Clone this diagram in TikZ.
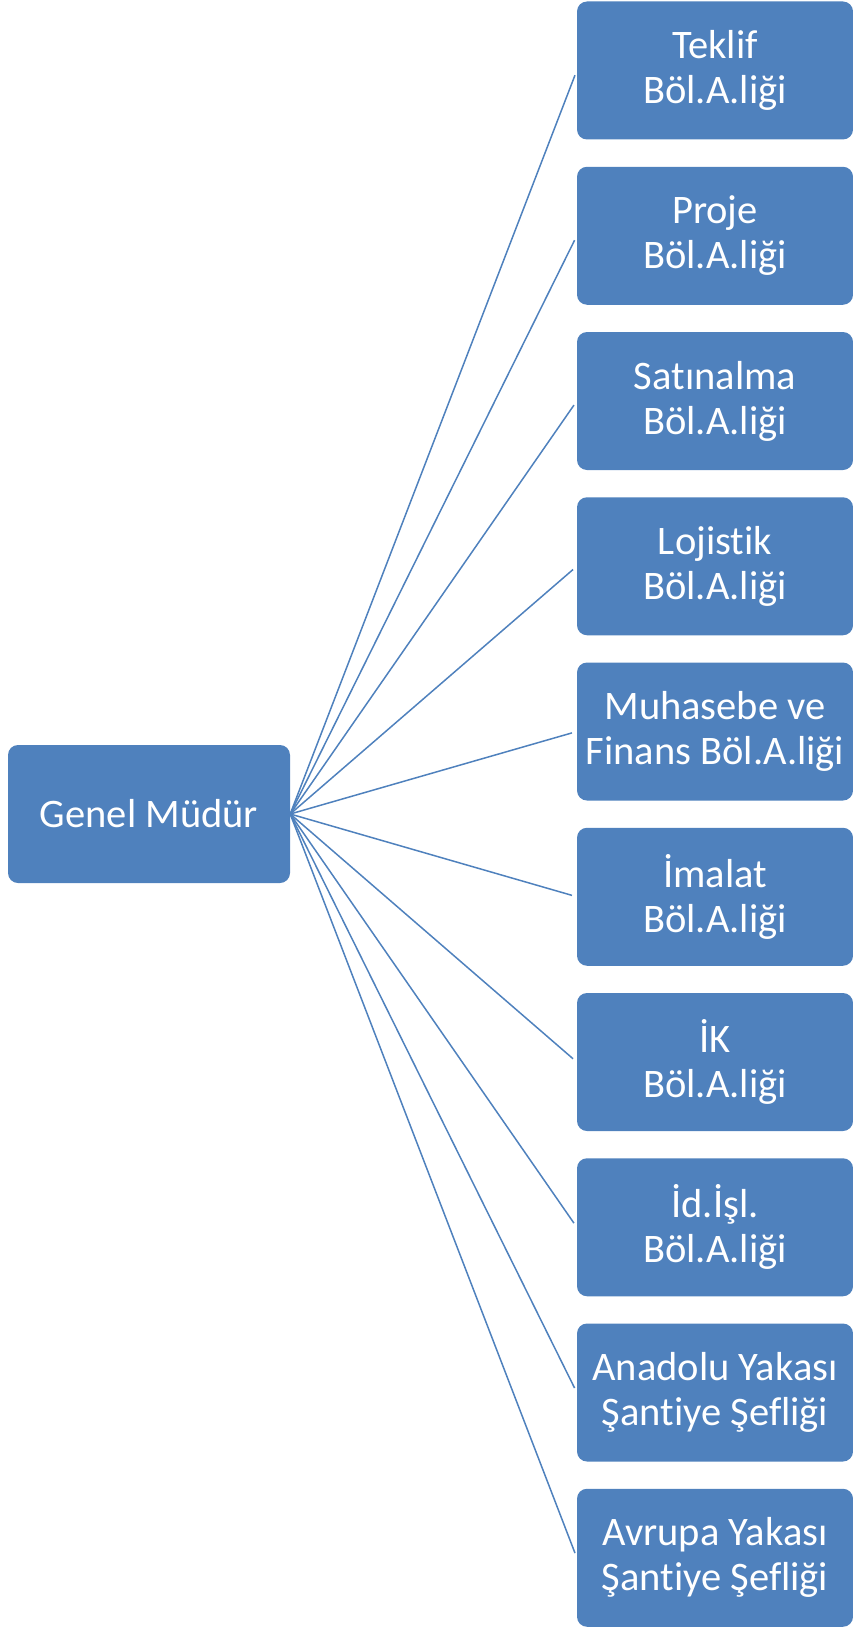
\documentclass[tikz,border=0pt]{standalone}
\usepackage{fontspec}
\setmainfont[Ligatures={NoCommon}]{Carlito}
\definecolor{boxblue}{HTML}{4F81BD}
\begin{document}
\begin{tikzpicture}[x=1pt,y=-1pt,
  orgbox/.style={fill=boxblue, draw=none, rounded corners=10pt, text=white,
    align=center, inner sep=0pt, font=\fontsize{40.5}{45}\selectfont},
  sub/.style={orgbox, minimum width=276pt, minimum height=138pt},
  link/.style={draw=boxblue, line width=1.5pt, shorten >=5pt}]
\useasboundingbox (0,0) rectangle (853,1627);
\node[orgbox, minimum width=282pt, minimum height=138pt] (gm) at (149,814) {Genel Müdür};
\node[sub] (b1) at (715,70.5) {Teklif\\Böl.A.liği};
\node[sub] (b2) at (715,235.75) {Proje\\Böl.A.liği};
\node[sub] (b3) at (715,401) {Satınalma\\Böl.A.liği};
\node[sub] (b4) at (715,566.25) {Lojistik\\Böl.A.liği};
\node[sub] (b5) at (715,731.5) {Muhasebe ve\\Finans Böl.A.liği};
\node[sub] (b6) at (715,896.75) {İmalat\\Böl.A.liği};
\node[sub] (b7) at (715,1062) {İK\\Böl.A.liği};
\node[sub] (b8) at (715,1227.25) {İd.İşl.\\Böl.A.liği};
\node[sub] (b9) at (715,1392.5) {Anadolu Yakası\\Şantiye Şefliği};
\node[sub] (b10) at (715,1557.75) {Avrupa Yakası\\Şantiye Şefliği};
\foreach \i in {1,...,10} { \draw[link] (gm.east) -- (b\i.west); }
\end{tikzpicture}
\end{document}
